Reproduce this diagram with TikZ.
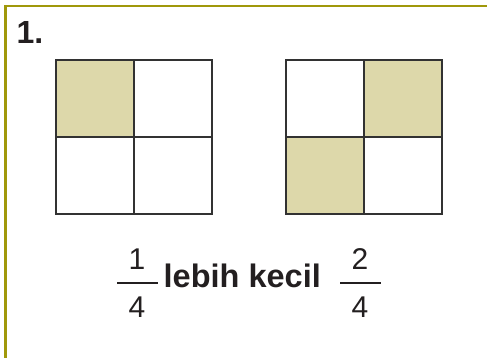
\documentclass[tikz,border=0pt]{standalone}
\usepackage{fontspec}
\setmainfont{Liberation Sans}
\definecolor{frameol}{RGB}{160,152,10}
\definecolor{cellfill}{RGB}{221,216,170}
\definecolor{gridln}{RGB}{50,50,50}
\definecolor{inkc}{RGB}{35,31,32}
\begin{document}
\begin{tikzpicture}[x=1pt,y=-1pt,
  gridline/.style={draw=gridln,line width=1.3pt},
  shaded/.style={fill=cellfill},
  digit/.style={anchor=base,inner sep=0pt,text=inkc,font=\fontsize{30}{36}\selectfont},
  word/.style={anchor=base west,inner sep=0pt,text=inkc,font=\fontsize{32.5}{38}\selectfont\bfseries},
  fracbar/.style={draw=inkc,line width=1.5pt}]
\useasboundingbox (0,0) rectangle (487,357);
% frame
\draw[frameol,line width=2.6pt] (5.5,360) -- (5.5,6) -- (490,6);
% title
\node[anchor=base west,inner sep=0pt,text=inkc,font=\fontsize{32}{38}\selectfont\bfseries] (num) at (16.5,43) {1.};
% grid 1
\fill[shaded] (56,60) rectangle (134,137);
\draw[gridline] (56,60) rectangle (212,214);
\draw[gridline] (134,60) -- (134,214);
\draw[gridline] (56,137) -- (212,137);
% grid 2
\fill[shaded] (364,60) rectangle (442,137);
\fill[shaded] (286,137) rectangle (364,214);
\draw[gridline] (286,60) rectangle (442,214);
\draw[gridline] (364,60) -- (364,214);
\draw[gridline] (286,137) -- (442,137);
% fractions
\node[digit] (n1) at (137,269) {1};
\node[digit] (d1) at (137,317) {4};
\coordinate (b1l) at (117,283);
\coordinate (b1r) at (158,283);
\draw[fracbar] (b1l) -- (b1r);
\node[word] (txt) at (163.5,287) {lebih kecil};
\node[digit] (n2) at (360,269) {2};
\node[digit] (d2) at (360,317) {4};
\coordinate (b2l) at (340,283);
\coordinate (b2r) at (381,283);
\draw[fracbar] (b2l) -- (b2r);
\end{tikzpicture}
\end{document}
